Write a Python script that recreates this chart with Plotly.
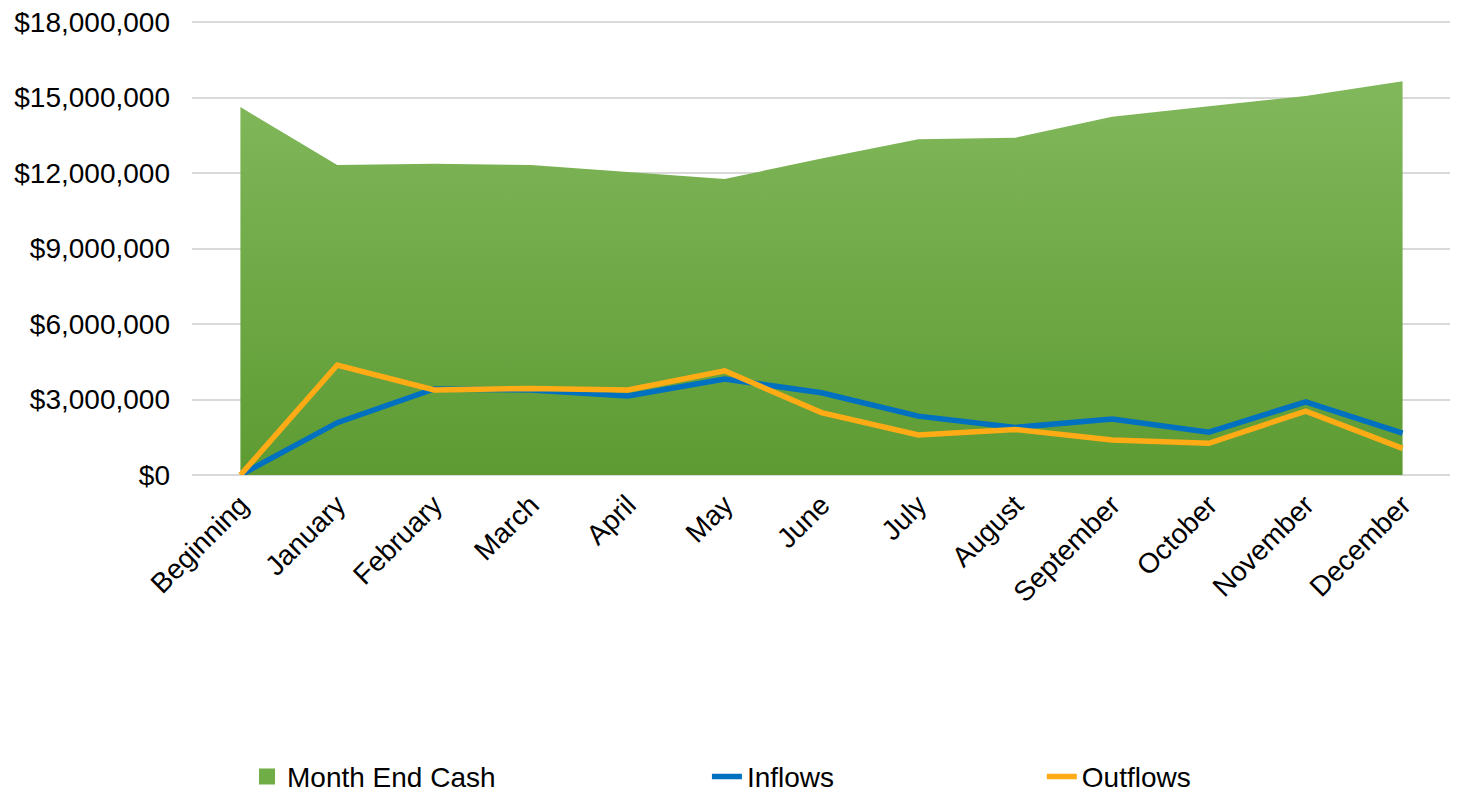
import plotly.graph_objects as go

months = ["Beginning", "January", "February", "March", "April", "May", "June",
          "July", "August", "September", "October", "November", "December"]

month_end_cash = [14620000, 12320000, 12370000, 12320000, 12040000, 11760000, 12580000,
                  13340000, 13400000, 14240000, 14650000, 15060000, 15650000]
inflows = [0, 2080000, 3420000, 3380000, 3140000, 3810000, 3270000,
           2340000, 1890000, 2220000, 1700000, 2910000, 1660000]
outflows = [0, 4370000, 3380000, 3440000, 3380000, 4140000, 2480000,
            1590000, 1810000, 1390000, 1260000, 2540000, 1060000]

FONT = "Liberation Sans, Arial, sans-serif"
GREEN_TOP = "#82B85C"
GREEN_BOTTOM = "#5D9B32"
GREEN_KEY = "#70AD47"
BLUE = "#0070C0"
ORANGE = "#FFAB16"


fig = go.Figure()

# Area
fig.add_trace(go.Scatter(
    x=months,
    y=month_end_cash,
    name="Month End Cash",
    mode="lines",
    line=dict(width=0, color=GREEN_TOP),
    fill="tozeroy",
    fillgradient=dict(
        type="vertical",
        start=0,
        stop=max(month_end_cash),
        colorscale=[[0, GREEN_BOTTOM], [1, GREEN_TOP]],
    ),
    showlegend=False,
))

# legend key for the area (square swatch like Excel)
fig.add_trace(go.Scatter(
    x=[months[0]],
    y=[None],
    name="Month End Cash",
    mode="markers",
    marker=dict(symbol="square", size=16, color=GREEN_KEY),
    legend="legend",
))

# Lines
fig.add_trace(go.Scatter(
    x=months,
    y=inflows,
    name="Inflows",
    mode="lines",
    line=dict(width=5.5, color=BLUE),
    legend="legend2",
))

fig.add_trace(go.Scatter(
    x=months,
    y=outflows,
    name="Outflows",
    mode="lines",
    line=dict(width=5.5, color=ORANGE),
    legend="legend3",
))


# plot height 458px for 0..18.2M keeps the 18M grid line inside the frame
legend_style = dict(
    orientation="h",
    yanchor="middle",
    y=-0.659,
    xanchor="left",
    font=dict(family=FONT, size=28, color="#000000"),
    bgcolor="rgba(0,0,0,0)",
)

# page body has an 8px margin, so the figure is sized to fit inside it
fig.update_layout(
    width=1450,
    height=786,
    margin=dict(l=184, r=7, t=9, b=319, autoexpand=False),
    paper_bgcolor="white",
    plot_bgcolor="white",
    font=dict(family=FONT, size=28, color="#000000"),
    showlegend=True,
    legend=dict(legend_style, x=0.0437),
    legend2=dict(legend_style, x=0.409),
    legend3=dict(legend_style, x=0.675),
    xaxis=dict(
        range=[-0.5, 12.5],
        tickangle=-45,
        showgrid=False,
        showline=False,
        ticks="",
        ticklabelstandoff=7,
        tickfont=dict(family=FONT, size=28, color="#000000"),
    ),
    yaxis=dict(
        range=[0, 18200000],
        dtick=3000000,
        tick0=0,
        tickprefix="$",
        tickformat=",",
        showgrid=True,
        gridcolor="#D9D9D9",
        gridwidth=1.5,
        zeroline=True,
        zerolinecolor="#D9D9D9",
        zerolinewidth=2,
        ticks="",
        ticklabelstandoff=21,
        ticklabeloverflow="allow",
        tickfont=dict(family=FONT, size=28, color="#000000"),
    ),
)

fig.write_html("out.html")
